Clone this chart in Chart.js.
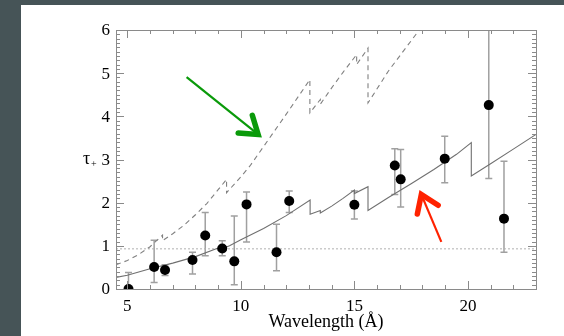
<!DOCTYPE html>
<html>
<head>
<meta charset="utf-8">
<script src="https://cdn.jsdelivr.net/npm/chart.js@4.4.1/dist/chart.umd.min.js"></script>
<style>
  html, body { margin: 0; padding: 0; width: 564px; height: 336px; overflow: hidden; background: #465457; }
  #panel { position: absolute; left: 21px; top: 5px; width: 543px; height: 331px; background: #ffffff; }
  #c { display: block; }
</style>
</head>
<body>
<div id="panel"><canvas id="c" width="543" height="331"></canvas></div>
<script>
// ---- Data ----
const obsWavelength = [5.05, 6.18, 6.66, 7.87, 8.43, 9.18, 9.71, 10.25, 11.57, 12.13, 15.0, 16.78, 17.04, 18.98, 20.92, 21.59];
const obsTau        = [0.0, 0.51, 0.44, 0.67, 1.24, 0.94, 0.64, 1.96, 0.85, 2.04, 1.95, 2.86, 2.54, 3.02, 4.26, 1.63];
const obsTauHigh    = [0.38, 1.13, 0.56, 0.85, 1.77, 1.12, 1.69, 2.25, 1.50, 2.27, 2.27, 3.25, 3.23, 3.54, 6.5, 2.96];
const obsTauLow     = [-0.4, 0.15, 0.31, 0.35, 0.77, 0.77, 0.10, 1.09, 0.42, 1.77, 1.62, 2.19, 1.90, 2.46, 2.56, 0.85];

const modelSolidX = [4.5, 5, 6, 7, 8, 9.0, 9.0, 9.5, 10, 11, 12, 13.05, 13.05, 13.5, 13.5, 14, 14.5, 15.0, 15.0, 15.6, 15.6, 16.5, 17.5, 18.5, 19.5, 20.15, 20.15, 21, 22, 23];
const modelSolidY = [0.27, 0.32, 0.47, 0.60, 0.75, 0.95, 0.90, 1.00, 1.14, 1.40, 1.70, 2.06, 1.73, 1.82, 1.76, 1.92, 2.10, 2.29, 2.21, 2.37, 1.82, 2.12, 2.44, 2.77, 3.12, 3.39, 2.62, 2.90, 3.24, 3.58];

const modelDashX = [4.5, 5, 5.5, 6, 6.55, 6.55, 7, 7.5, 8, 8.5, 9, 9.37, 9.37, 10, 10.4, 11, 12, 13.04, 13.04, 13.5, 13.5, 14, 14.5, 15.1, 15.1, 15.6, 15.6, 16.5, 17.5, 18.5];
const modelDashY = [0.56, 0.66, 0.80, 0.98, 1.25, 1.12, 1.28, 1.48, 1.72, 1.98, 2.30, 2.54, 2.23, 2.60, 2.85, 3.30, 4.05, 4.85, 4.08, 4.39, 4.28, 4.66, 5.02, 5.43, 5.20, 5.58, 4.31, 5.05, 5.75, 6.45];

const thresholdX = [4.5, 23];
const thresholdY = [0.93, 0.93];

const xTickValues = [5, 10, 15, 20];
const yTickValues = [0, 1, 2, 3, 4, 5, 6];

// annotation arrows in data coordinates: [tailX, tailY, tipX, tipY]
const greenArrow = [7.61, 4.91, 10.76, 3.58];
const redArrow   = [18.83, 1.09, 17.95, 2.19];

const toXY = (xs, ys) => xs.map((x, i) => ({ x: x, y: ys[i] }));

const frameColor = '#8a8a8a';

const decorPlugin = {
  id: 'decor',
  beforeDatasetsDraw(chart) {
    const { ctx, chartArea: a, scales: { x, y } } = chart;
    ctx.save();
    ctx.beginPath();
    ctx.rect(a.left, a.top, a.right - a.left, a.bottom - a.top);
    ctx.clip();
    ctx.strokeStyle = '#a0a0a0';
    ctx.lineWidth = 1.5;
    for (let i = 0; i < obsWavelength.length; i++) {
      const px = x.getPixelForValue(obsWavelength[i]);
      const ph = y.getPixelForValue(obsTauHigh[i]);
      const pl = y.getPixelForValue(obsTauLow[i]);
      ctx.beginPath();
      ctx.moveTo(px, ph); ctx.lineTo(px, pl);
      ctx.moveTo(px - 3.5, ph); ctx.lineTo(px + 3.5, ph);
      ctx.moveTo(px - 3.5, pl); ctx.lineTo(px + 3.5, pl);
      ctx.stroke();
    }
    ctx.restore();
  },
  afterDatasetsDraw(chart) {
    const { ctx, chartArea: a, scales: { x, y } } = chart;
    ctx.save();
    // frame
    ctx.strokeStyle = frameColor;
    ctx.lineWidth = 1;
    ctx.strokeRect(Math.round(a.left) + 0.5, Math.round(a.top) + 0.5, Math.round(a.right - a.left), Math.round(a.bottom - a.top));
    // x ticks (bottom & top, inward)
    ctx.beginPath();
    for (let v = 5; v <= 23; v += 1) {
      const px = Math.round(x.getPixelForValue(v)) + 0.5;
      const len = (v % 5 === 0) ? 8 : 4;
      ctx.moveTo(px, a.bottom); ctx.lineTo(px, a.bottom - len);
      ctx.moveTo(px, a.top); ctx.lineTo(px, a.top + len);
    }
    // y ticks (left & right, inward)
    for (let k = 0; k <= 60; k++) {
      const v = k / 10;
      const py = Math.round(y.getPixelForValue(v)) + 0.5;
      const len = (k % 10 === 0) ? 8 : 4;
      ctx.moveTo(a.left, py); ctx.lineTo(a.left + len, py);
      ctx.moveTo(a.right, py); ctx.lineTo(a.right - len, py);
    }
    ctx.stroke();

    // arrows
    const drawArrow = (arr, color, shaftW, headW, headLen) => {
      const x0 = x.getPixelForValue(arr[0]), y0 = y.getPixelForValue(arr[1]);
      const x1 = x.getPixelForValue(arr[2]), y1 = y.getPixelForValue(arr[3]);
      const ang = Math.atan2(y1 - y0, x1 - x0);
      ctx.strokeStyle = color;
      ctx.lineCap = 'butt';
      ctx.lineWidth = shaftW;
      ctx.beginPath(); ctx.moveTo(x0, y0); ctx.lineTo(x1 - Math.cos(ang) * 2, y1 - Math.sin(ang) * 2); ctx.stroke();
      ctx.lineWidth = headW;
      ctx.lineJoin = 'miter';
      ctx.lineCap = 'round';
      const spread = 0.6;
      ctx.beginPath();
      ctx.moveTo(x1 - headLen * Math.cos(ang - spread), y1 - headLen * Math.sin(ang - spread));
      ctx.lineTo(x1, y1);
      ctx.lineTo(x1 - headLen * Math.cos(ang + spread), y1 - headLen * Math.sin(ang + spread));
      ctx.stroke();
    };
    drawArrow(greenArrow, '#0a9a0a', 2.2, 5.5, 20);
    drawArrow(redArrow, '#ff2200', 2.2, 5.5, 20);

    // y-axis title
    ctx.fillStyle = '#000';
    ctx.textBaseline = 'middle';
    ctx.textAlign = 'left';
    ctx.font = '18px "Liberation Serif"';
    const ty = y.getPixelForValue(3);
    ctx.fillText('\u03C4', a.left - 33, ty);
    ctx.font = '10px "Liberation Serif"';
    ctx.fillText('+', a.left - 25, ty + 5);
    ctx.restore();
  }
};

new Chart(document.getElementById('c'), {
  type: 'scatter',
  data: {
    datasets: [
      {
        label: 'observed',
        data: toXY(obsWavelength, obsTau),
        showLine: false,
        pointRadius: 5,
        pointBackgroundColor: '#000',
        pointBorderColor: '#000',
        pointBorderWidth: 0,
        clip: 0
      },
      {
        label: 'model',
        data: toXY(modelSolidX, modelSolidY),
        showLine: true,
        pointRadius: 0,
        borderColor: '#707070',
        borderWidth: 1.1,
        tension: 0,
        clip: 0
      },
      {
        label: 'model upper',
        data: toXY(modelDashX, modelDashY),
        showLine: true,
        pointRadius: 0,
        borderColor: '#808080',
        borderWidth: 1.1,
        borderDash: [5, 4],
        tension: 0,
        clip: 0
      },
      {
        label: 'threshold',
        data: toXY(thresholdX, thresholdY),
        showLine: true,
        pointRadius: 0,
        borderColor: '#b0b0b0',
        borderWidth: 1,
        borderDash: [2, 2],
        clip: 0
      }
    ]
  },
  options: {
    responsive: false,
    animation: false,
    events: [],
    layout: { padding: { left: 0, right: 28, top: 25, bottom: 0 } },
    plugins: { legend: { display: false }, tooltip: { enabled: false }, title: { display: false } },
    scales: {
      x: {
        type: 'linear',
        min: 4.5,
        max: 23,
        afterBuildTicks: (s) => { s.ticks = xTickValues.map(v => ({ value: v })); },
        afterFit: (s) => { s.height = 47; },
        grid: { display: false, drawTicks: false },
        border: { display: false },
        ticks: { color: '#000', font: { family: 'Liberation Serif', size: 17 }, padding: 7, maxRotation: 0, autoSkip: false },
        title: { display: true, text: 'Wavelength (\u00C5)', color: '#000', font: { family: 'Liberation Serif', size: 18 }, padding: { top: 0, bottom: 3 } }
      },
      y: {
        type: 'linear',
        min: 0,
        max: 6,
        afterBuildTicks: (s) => { s.ticks = yTickValues.map(v => ({ value: v })); },
        afterFit: (s) => { s.width = 95; },
        grid: { display: false, drawTicks: false },
        border: { display: false },
        ticks: { color: '#000', font: { family: 'Liberation Serif', size: 17 }, padding: 6, autoSkip: false, labelOffset: 1 }
      }
    }
  },
  plugins: [decorPlugin]
});
</script>
</body>
</html>
